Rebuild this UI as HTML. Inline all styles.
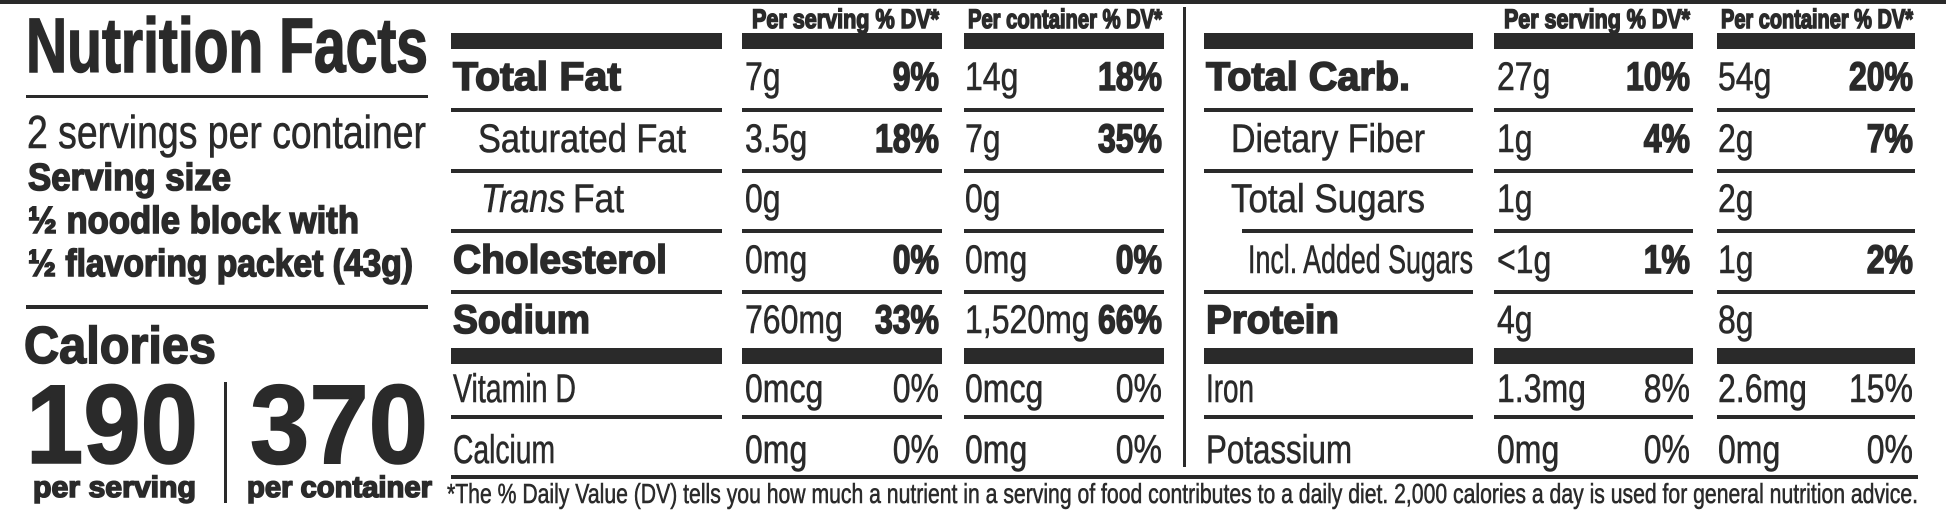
<!DOCTYPE html>
<html><head><meta charset="utf-8">
<style>
html,body{margin:0;padding:0;background:#fff;}
svg{display:block;}
text{font-family:"Liberation Sans",Arial,sans-serif;fill:#2a2a2a;stroke:#2a2a2a;stroke-width:0.6px;}
text[font-weight="bold"]{stroke-width:1.6px;}
</style></head>
<body>
<svg id="lab" width="1946" height="515" viewBox="0 0 1946 515" xmlns="http://www.w3.org/2000/svg">
<rect x="0" y="0" width="1946" height="4" fill="#2a2a2a"/>
</svg>
<script>
const leftLabels=["Total Fat","Saturated Fat","Trans Fat","Cholesterol","Sodium","Vitamin D","Calcium"];
const leftServAmt=["7g","3.5g","0g","0mg","760mg","0mcg","0mg"];
const leftServPct=["9%","18%","","0%","33%","0%","0%"];
const leftContAmt=["14g","7g","0g","0mg","1,520mg","0mcg","0mg"];
const leftContPct=["18%","35%","","0%","66%","0%","0%"];
const rightLabels=["Total Carb.","Dietary Fiber","Total Sugars","Incl. Added Sugars","Protein","Iron","Potassium"];
const rightServAmt=["27g","1g","1g","<1g","4g","1.3mg","0mg"];
const rightServPct=["10%","4%","","1%","","8%","0%"];
const rightContAmt=["54g","2g","2g","1g","8g","2.6mg","0mg"];
const rightContPct=["20%","7%","","2%","","15%","0%"];

const svg=document.getElementById('lab');
const NS='http://www.w3.org/2000/svg';
const baselines=[90,152,212,273,333,402,463];
const lineYs=[110,171,231,292,null,417];
function rect(x,y,w,h,name){
  const r=document.createElementNS(NS,'rect');
  r.setAttribute('x',x);r.setAttribute('y',y);r.setAttribute('width',w);r.setAttribute('height',h);
  r.setAttribute('fill','#2a2a2a');
  
  
  svg.appendChild(r);return r;
}
function txt(x,y,s,size,weight,anchor,width,name,italic){
  const t=document.createElementNS(NS,'text');
  t.setAttribute('x',x);t.setAttribute('y',y);
  t.setAttribute('font-size',size);
  t.setAttribute('font-weight',weight);
  if(anchor)t.setAttribute('text-anchor',anchor);
  if(italic)t.setAttribute('font-style','italic');
  t.textContent=s;
  
  
  svg.appendChild(t);
  let w=width;
  if(!w){w=t.getComputedTextLength()*0.8;}
  t.setAttribute('textLength',w);
  t.setAttribute('lengthAdjust','spacingAndGlyphs');
  return t;
}
txt(26,72,"Nutrition Facts",77,"bold",null,402,"title");
rect(26,95,402,3,"title-rule");
txt(27,148,"2 servings per container",46,"normal",null,399,"servings-per-container");
txt(28,190,"Serving size",38,"bold",null,203,"serving-size-label");
txt(28,233,"½ noodle block with",38,"bold",null,331,"serving-size-line1");
txt(28,276,"½ flavoring packet (43g)",38,"bold",null,385,"serving-size-line2");
rect(26,305,402,4,"calories-rule");
txt(24,363,"Calories",52,"bold",null,192,"calories-label");
txt(26,463,"190",112,"bold",null,172,"calories-per-serving");
rect(224,382,3,121,"calories-divider");
txt(250,463,"370",112,"bold",null,178,"calories-per-container");
txt(33,497,"per serving",30,"bold",null,163,"per-serving-caption");
txt(247,497,"per container",30,"bold",null,185,"per-container-caption");

function section(cols,labels,sa,sp,ca,cp,side){
  txt(cols.sR,28,"Per serving % DV*",27,"bold","end",cols.sR-cols.sL-10,side+"-header-per-serving");
  txt(cols.cR,28,"Per container % DV*",27,"bold","end",cols.cR-cols.cL-4,side+"-header-per-container");
  [[cols.lL,cols.lR],[cols.sL,cols.sR+3],[cols.cL,cols.cR+2]].forEach((c,i)=>{
    rect(c[0],33,c[1]-c[0],16,side+"-header-bar-"+i);
    rect(c[0],348,c[1]-c[0],16,side+"-vitamin-bar-"+i);
    lineYs.forEach((ly,j)=>{
      if(ly===null)return;
      let x0=c[0];
      if(side==="right"&&i===0&&j===2)x0=1242;
      rect(x0,ly-2,c[1]-x0,4,side+"-row-rule-"+j+"-"+i);
    });
  });
  labels.forEach((lab,i)=>{
    const y=baselines[i];
    const bold=(i===0||i===3||i===4)&&!(side==="right"&&i===3);
    let x=cols.lL+2+cols.indent[i];
    const name=lab.toLowerCase().replace(/[^a-z]+/g,'-').replace(/-$/,'');
    if(lab==="Trans Fat"){
      txt(x,y,"Trans",40,"normal",null,84,"trans-label",true);
      txt(x+92,y,"Fat",40,"normal",null,51,"trans-fat-label");
    } else {
      txt(x,y,lab,40,bold?"bold":"normal",null,cols.widths[i],name+"-label");
    }
    const pctBold=i<5;
    txt(cols.sL+3,y,sa[i],40,"normal",null,null,name+"-per-serving-amount");
    if(sp[i])txt(cols.sR,y,sp[i],40,pctBold?"bold":"normal","end",null,name+"-per-serving-dv");
    txt(cols.cL+1,y,ca[i],40,"normal",null,null,name+"-per-container-amount");
    if(cp[i])txt(cols.cR,y,cp[i],40,pctBold?"bold":"normal","end",null,name+"-per-container-dv");
  });
}
section({lL:451,lR:722,sL:742,sR:939,cL:964,cR:1162,indent:[0,25,28,0,0,0,0],widths:[168,208,0,214,137,123,102]},
  leftLabels,leftServAmt,leftServPct,leftContAmt,leftContPct,"left");
rect(1183,7,3,460,"center-divider");
section({lL:1204,lR:1473,sL:1494,sR:1690,cL:1717,cR:1913,indent:[0,25,25,42,0,0,0],widths:[204,194,194,225,133,48,146]},
  rightLabels,rightServAmt,rightServPct,rightContAmt,rightContPct,"right");
rect(451,475,1467,4,"footer-rule");
txt(447,503,"*The % Daily Value (DV) tells you how much a nutrient in a serving of food contributes to a daily diet. 2,000 calories a day is used for general nutrition advice.",28,"normal",null,1471,"footnote");
</script>
</body></html>
